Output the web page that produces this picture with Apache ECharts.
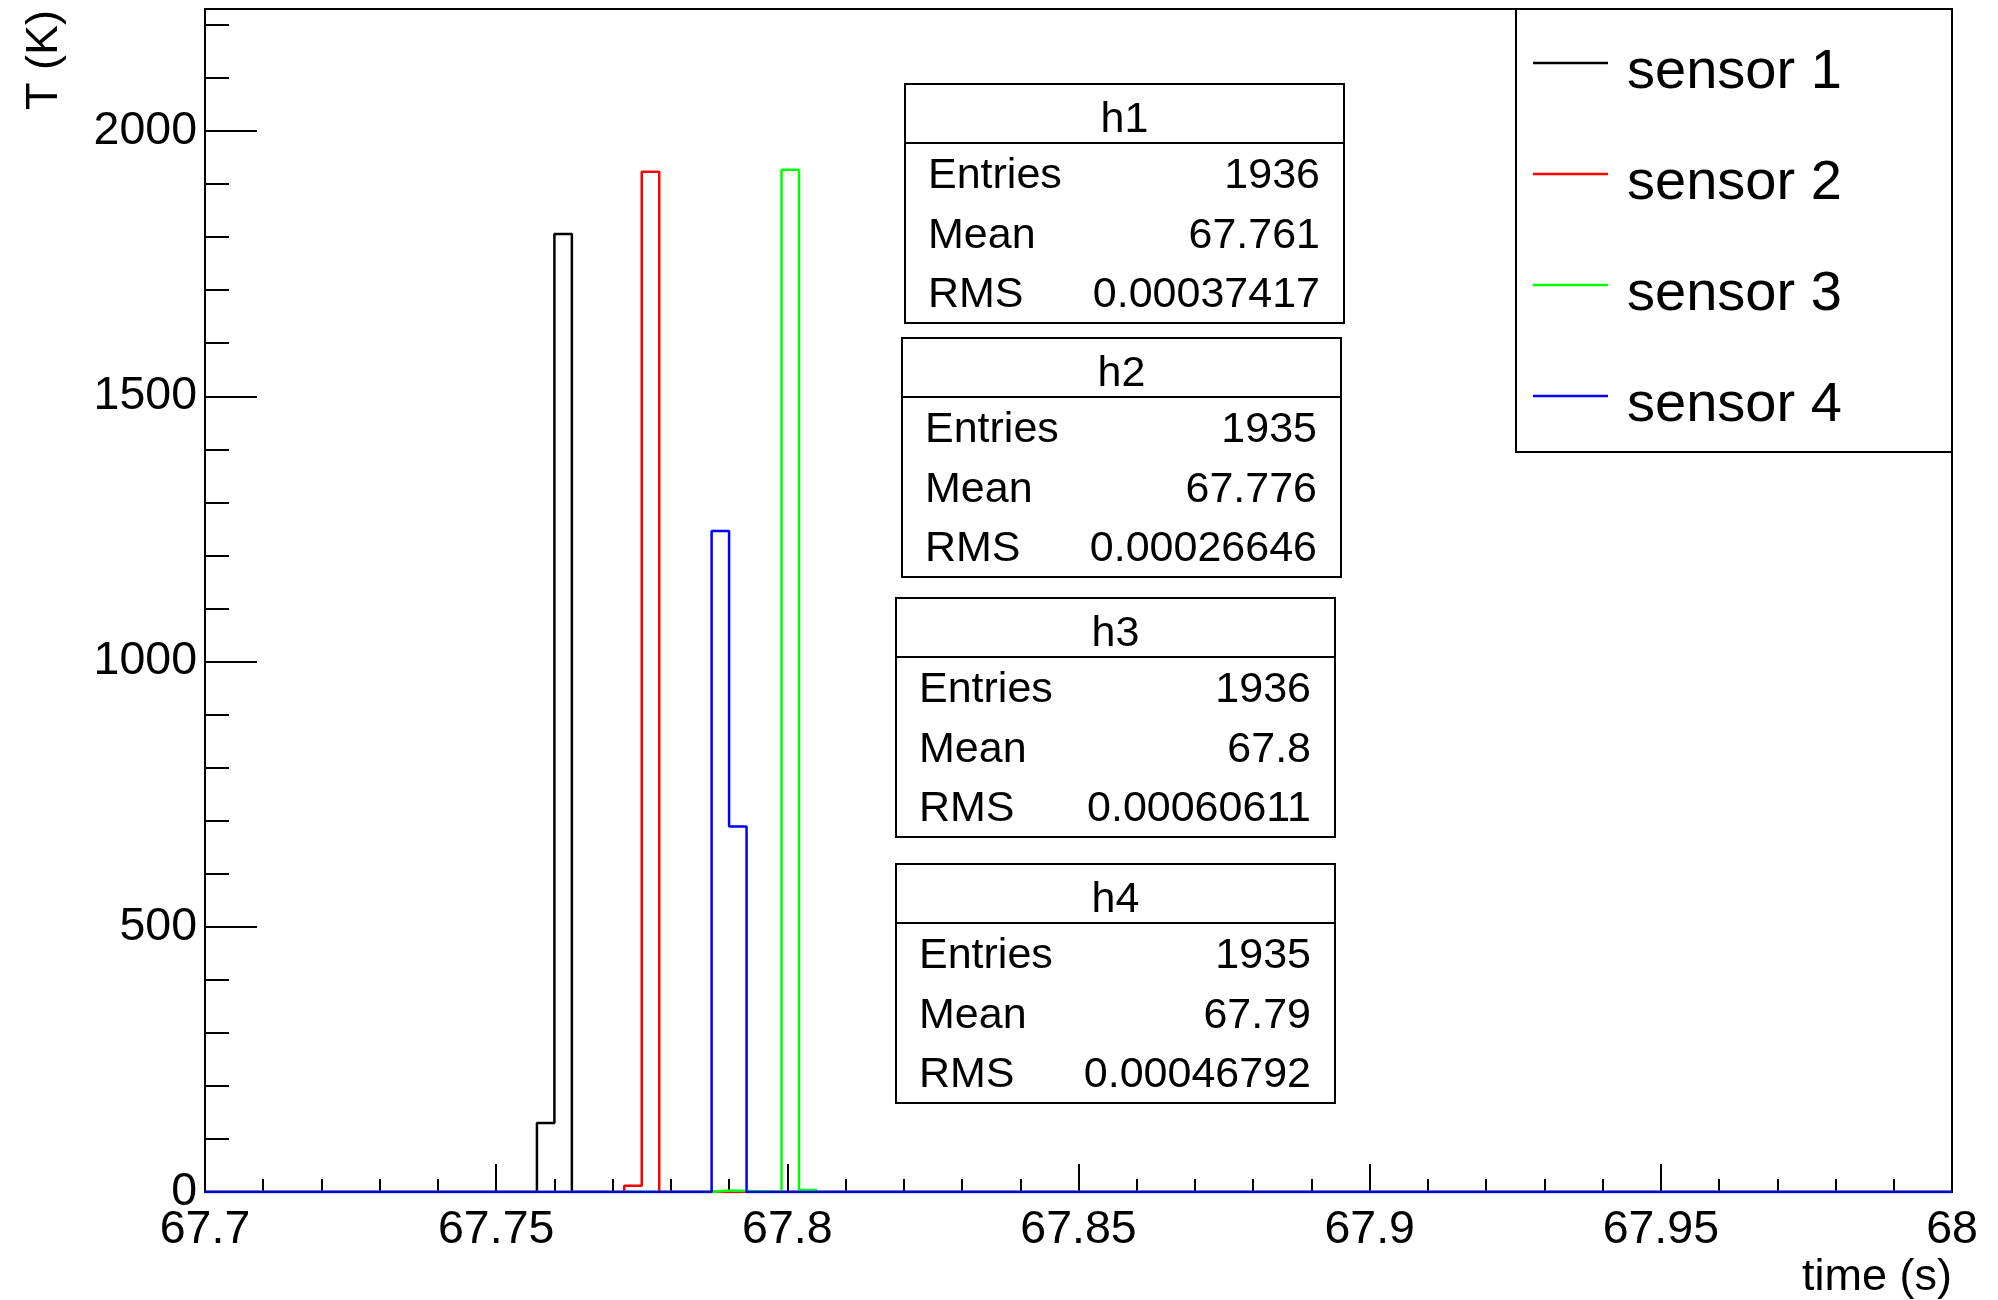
<!DOCTYPE html>
<html>
<head>
<meta charset="utf-8">
<script src="https://cdn.jsdelivr.net/npm/echarts@6/dist/echarts.min.js"></script>
<style>html,body{margin:0;padding:0;background:#fff}#c{width:1998px;height:1300px}</style>
</head>
<body>
<div id="c"></div>
<script>
// ---- data ----
const xTickLabels = ['67.7', '67.75', '67.8', '67.85', '67.9', '67.95', '68'];
const yTickLabels = ['0', '500', '1000', '1500', '2000'];
const xMin = 67.7, xMax = 68, yMax = 2230;
const xTitle = 'time (s)';
const yTitle = 'T (K)';
const seriesNames = ['sensor 1', 'sensor 2', 'sensor 3', 'sensor 4'];
const seriesColors = ['#000000', '#ff0000', '#00ff00', '#0000ff'];
const binWidth = 0.003;
const sensor1BinLow = [67.757, 67.760];
const sensor1Counts = [130, 1806];
const sensor2BinLow = [67.772, 67.775];
const sensor2Counts = [12, 1923];
const sensor3BinLow = [67.787, 67.790, 67.799, 67.802];
const sensor3Counts = [3, 2, 1927, 4];
const sensor4BinLow = [67.787, 67.790];
const sensor4Counts = [1246, 689];
const statNames = ['h1', 'h2', 'h3', 'h4'];
const statEntries = ['1936', '1935', '1936', '1935'];
const statMeans = ['67.761', '67.776', '67.8', '67.79'];
const statRMS = ['0.00037417', '0.00026646', '0.00060611', '0.00046792'];

// ---- build ----
const FONT = '"Liberation Sans", Arial, Helvetica, sans-serif';
function histPoints(lows, counts) {
  const pts = [[xMin, 0]];
  for (let i = 0; i < lows.length; i++) {
    const lo = lows[i];
    const hi = +(lo + binWidth).toFixed(6);
    pts.push([lo, counts[i]]);
    const next = lows[i + 1];
    if (next === undefined || Math.abs(next - hi) > 1e-9) pts.push([hi, 0]);
  }
  pts.push([xMax, 0]);
  return pts;
}
const bins = [
  [sensor1BinLow, sensor1Counts],
  [sensor2BinLow, sensor2Counts],
  [sensor3BinLow, sensor3Counts],
  [sensor4BinLow, sensor4Counts]
];
const series = bins.map((b, i) => ({
  type: 'line',
  name: seriesNames[i],
  data: histPoints(b[0], b[1]),
  step: 'end',
  showSymbol: false,
  symbol: 'none',
  color: seriesColors[i],
  lineStyle: { width: 2.5, color: seriesColors[i] },
  itemStyle: { color: seriesColors[i] },
  yAxisIndex: 0,
  z: 2 + i
}));

function labelFrom(list) {
  return function (v) {
    const s = list.find(t => Math.abs(parseFloat(t) - v) < 1e-6);
    return s === undefined ? '' : s;
  };
}

// stats boxes (layout)
const boxPos = [[905, 84], [902, 338], [896, 598], [896, 864]];
const boxW = 439, boxH = 239, headH = 59;
const graphics = [];
statNames.forEach((n, i) => {
  const [bx, by] = boxPos[i];
  const rowY = [92, 152, 211];
  const keys = ['Entries', 'Mean', 'RMS'];
  const vals = [statEntries[i], statMeans[i], statRMS[i]];
  const children = [
    { type: 'rect', shape: { x: 0, y: 0, width: boxW, height: boxH }, style: { fill: '#fff', stroke: '#000', lineWidth: 2 } },
    { type: 'line', shape: { x1: 0, y1: headH, x2: boxW, y2: headH }, style: { stroke: '#000', lineWidth: 2 } },
    { type: 'text', x: boxW / 2, y: 36, style: { text: n, font: '43px ' + FONT, fill: '#000', align: 'center', verticalAlign: 'middle' } }
  ];
  keys.forEach((k, j) => {
    children.push({ type: 'text', x: 23, y: rowY[j], style: { text: k, font: '43px ' + FONT, fill: '#000', align: 'left', verticalAlign: 'middle' } });
    children.push({ type: 'text', x: boxW - 24, y: rowY[j], style: { text: vals[j], font: '43px ' + FONT, fill: '#000', align: 'right', verticalAlign: 'middle' } });
  });
  graphics.push({ type: 'group', x: bx, y: by, z: 10, children });
});
// legend frame
graphics.push({ type: 'rect', z: 3, shape: { x: 1516, y: 9, width: 436, height: 443 }, style: { fill: '#fff', stroke: '#000', lineWidth: 2 } });
// axis titles
graphics.push({ type: 'text', x: 1952, y: 1255, z: 10, style: { text: xTitle, font: '45px ' + FONT, fill: '#000', align: 'right', verticalAlign: 'top' } });
graphics.push({ type: 'text', x: 45, y: 10, rotation: Math.PI / 2, z: 10, style: { text: yTitle, font: '45px ' + FONT, fill: '#000', align: 'right', verticalAlign: 'middle' } });

const chart = echarts.init(document.getElementById('c'), null, { renderer: 'canvas' });
chart.setOption({
  animation: false,
  backgroundColor: '#fff',
  grid: { left: 205, right: 46, top: 9, bottom: 108, show: true, borderColor: '#000', borderWidth: 2, backgroundColor: 'transparent' },
  xAxis: {
    type: 'value', min: xMin, max: xMax, interval: 0.05,
    axisLine: { show: true, onZero: false, lineStyle: { color: '#000', width: 2 } },
    axisTick: { show: true, inside: true, length: 28, lineStyle: { color: '#000', width: 2 } },
    minorTick: { show: true, splitNumber: 5, length: 13, lineStyle: { color: '#000', width: 2 } },
    splitLine: { show: false }, minorSplitLine: { show: false },
    axisLabel: { fontSize: 46.5, fontFamily: FONT, color: '#000', margin: 15, formatter: labelFrom(xTickLabels) }
  },
  yAxis: [{
    type: 'value', min: 0, max: yMax, interval: 500, position: 'left',
    axisLine: { show: true, lineStyle: { color: '#000', width: 2 } },
    axisTick: { show: true, inside: true, length: 52, lineStyle: { color: '#000', width: 2 } },
    splitLine: { show: false },
    axisLabel: { fontSize: 46.5, fontFamily: FONT, color: '#000', margin: 8, formatter: labelFrom(yTickLabels) }
  }, {
    type: 'value', min: 0, max: yMax, interval: 100, position: 'left',
    axisLine: { show: false },
    axisTick: { show: true, inside: true, length: 24, lineStyle: { color: '#000', width: 2 } },
    splitLine: { show: false },
    axisLabel: { show: false }
  }],
  legend: {
    orient: 'vertical', left: 1533, top: 25, padding: 0, itemGap: 35,
    itemWidth: 75, itemHeight: 2.5, icon: 'rect', selectedMode: false, z: 5,
    data: seriesNames,
    formatter: '{a|{name}}',
    textStyle: {
      fontSize: 56, fontFamily: FONT, color: '#000',
      rich: { a: { fontSize: 56, fontFamily: FONT, color: '#000', lineHeight: 56, padding: [20, 0, 0, 14] } }
    }
  },
  graphic: graphics,
  series
});
</script>
</body>
</html>
